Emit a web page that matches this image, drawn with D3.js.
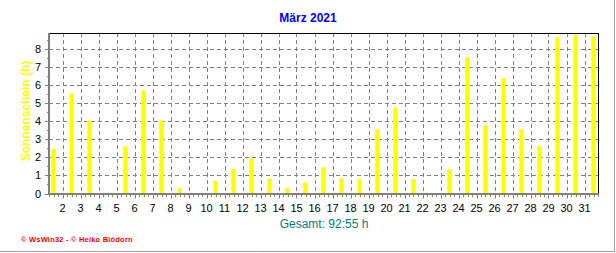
<!DOCTYPE html>
<html><head><meta charset="utf-8">
<script src="https://cdn.jsdelivr.net/npm/d3@7"></script>
<style>
html,body{margin:0;padding:0;background:#fff;}
svg{display:block;font-family:"Liberation Sans",Arial,sans-serif;}
</style></head>
<body>
<svg id="c" width="616" height="253"></svg>
<script>
const title = "März 2021";
const yLabel = "Sonnenschein (h)";
const totalLabel = "Gesamt: 92:55 h";
const footer = "\u00a9 WsWin32  -  \u00a9 Heiko Blödorn";
const days = d3.range(1, 32);
const sunshine = [2.46,5.53,4.03,0.05,2.61,5.70,4.03,0.29,0.03,0.70,1.36,1.95,0.81,0.29,0.62,1.45,0.84,0.79,3.55,4.76,0.79,0.03,1.34,7.52,3.77,6.36,3.55,2.61,8.62,8.79,8.68];
const yTicks = [0,1,2,3,4,5,6,7,8];
const xTickLabels = d3.range(2, 32);

const svg = d3.select("#c");
const L = 49, R = 598, T = 33, B = 193.5;
const x = d3.scaleLinear().domain([1, 32]).range([44.5, 602.5]);
const y = d3.scaleLinear().domain([0, 8.86]).range([B, T]);

// frame lines (right/bottom)
svg.append("line").attr("x1",614.5).attr("x2",614.5).attr("y1",0).attr("y2",251).attr("stroke","#a0a0a0");
svg.append("line").attr("x1",0).attr("x2",615).attr("y1",251.5).attr("y2",251.5).attr("stroke","#a0a0a0");

// title
svg.append("text").attr("x",308).attr("y",22).attr("text-anchor","middle")
  .attr("font-size","12px").attr("font-weight","bold").attr("fill","#0000ff").text(title);

// grid
const g = svg.append("g");
g.selectAll(".hg").data(yTicks.filter(d=>d>0)).join("line")
  .attr("x1",L).attr("x2",R).attr("y1",d=>Math.round(y(d))+0.5).attr("y2",d=>Math.round(y(d))+0.5)
  .attr("stroke","#808080").attr("stroke-dasharray","4,3");
g.selectAll(".vg").data(xTickLabels).join("line")
  .attr("x1",d=>Math.round(x(d))+0.5).attr("x2",d=>Math.round(x(d))+0.5).attr("y1",T).attr("y2",B)
  .attr("stroke","#808080").attr("stroke-dasharray","4,3");

// bars
const bw = 4.6;
svg.append("g").selectAll("rect").data(days).join("rect")
  .attr("x", d => x(d + 0.5) - bw/2)
  .attr("width", bw)
  .attr("y", (d,i) => y(sunshine[i]))
  .attr("height", (d,i) => B - y(sunshine[i]))
  .attr("fill", "#ffff00");

// top and right border
svg.append("line").attr("x1",L).attr("x2",R+0.5).attr("y1",T+0.5).attr("y2",T+0.5).attr("stroke","#000");
svg.append("line").attr("x1",R+0.5).attr("x2",R+0.5).attr("y1",T).attr("y2",B).attr("stroke","#000");

// minor x ticks
const minor = d3.range(1, 32.01, 0.25).filter(v => x(v) >= L && x(v) <= R);
svg.append("g").selectAll("line").data(minor).join("line")
  .attr("x1", d=>Math.round(x(d))+0.5).attr("x2", d=>Math.round(x(d))+0.5)
  .attr("y1", B).attr("y2", d => Number.isInteger(d) ? B+5 : B+3.5)
  .attr("stroke","#808080");
// y ticks
const yMinor = d3.range(0, 8.76, 0.5);
svg.append("g").selectAll("line").data(yMinor).join("line")
  .attr("x1", d => Number.isInteger(d) ? L-4 : L-2).attr("x2", L)
  .attr("y1", d=>Math.round(y(d))+0.5).attr("y2", d=>Math.round(y(d))+0.5)
  .attr("stroke","#808080");

// axes lines (gray thick)
svg.append("line").attr("x1",L).attr("x2",L).attr("y1",T).attr("y2",B+1.5).attr("stroke","#808080").attr("stroke-width",2);
svg.append("line").attr("x1",L-1).attr("x2",R+1).attr("y1",B+0.5).attr("y2",B+0.5).attr("stroke","#808080").attr("stroke-width",2);

// y tick labels
svg.append("g").selectAll("text").data(yTicks).join("text")
  .attr("x", 41).attr("y", d => y(d) + 4).attr("text-anchor","end")
  .attr("font-size","11px").attr("fill","#000").text(d => d);

// x tick labels
svg.append("g").selectAll("text").data(xTickLabels).join("text")
  .attr("x", d => x(d)).attr("y", 211.5).attr("text-anchor","middle")
  .attr("font-size","11px").attr("fill","#000").text(d => d);

// y label
svg.append("text").attr("transform","translate(30,111) rotate(-90)").attr("text-anchor","middle")
  .attr("font-size","12px").attr("font-weight","bold").attr("fill","#ffff00").text(yLabel);

// total
svg.append("text").attr("x",324).attr("y",227.5).attr("text-anchor","middle")
  .attr("font-size","12px").attr("fill","#008080").text(totalLabel);

// footer
svg.append("text").attr("x",21).attr("y",242).attr("font-size","7.5px").attr("font-weight","bold")
  .attr("letter-spacing","0.2px").attr("fill","#ff0000").text(footer);
</script>
</body></html>
